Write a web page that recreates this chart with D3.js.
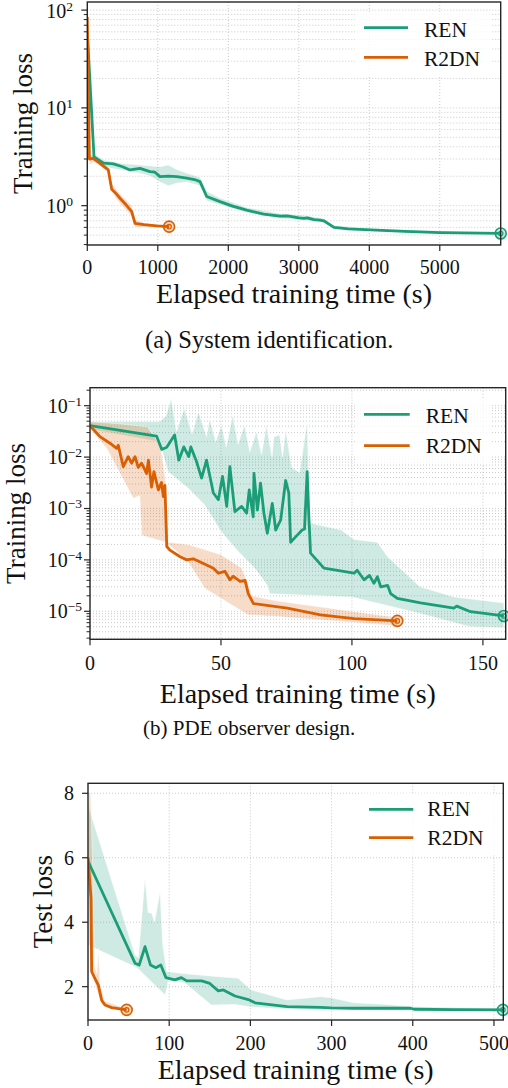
<!DOCTYPE html>
<html lang="en">
<head>
<meta charset="UTF-8">
<title>Training loss vs elapsed training time</title>
<script src="https://d3js.org/d3.v7.min.js"></script>
<style>
  body { margin: 0; background: #fff; }
</style>
</head>
<body>
<script>
// ---------- (a) System identification ----------
var sysRenT  = [0, 95, 230, 370, 500, 606, 748, 889, 960, 1031, 1150, 1268, 1410, 1520, 1599, 1694, 1882, 2061, 2261, 2500, 2733, 2837, 3000, 3074, 3120, 3216, 3300, 3357, 3499, 3700, 4020, 4500, 5000, 5864];
var sysRen   = [60, 3.15, 2.72, 2.67, 2.5, 2.32, 2.41, 2.23, 2.2, 1.98, 2.0, 1.98, 1.91, 1.85, 1.76, 1.24, 1.10, 0.99, 0.90, 0.82, 0.78, 0.785, 0.75, 0.743, 0.75, 0.72, 0.71, 0.70, 0.60, 0.58, 0.565, 0.545, 0.53, 0.52];
var sysRenBandT = [0, 95, 230, 500, 750, 900, 1031, 1150, 1268, 1410, 1599, 1694, 1882, 2261, 2733, 3074, 3357, 3499, 4020, 5864];
var sysRenHi = [66, 3.4, 2.95, 2.7, 2.6, 2.55, 2.5, 2.6, 2.35, 2.15, 1.95, 1.4, 1.2, 0.96, 0.83, 0.8, 0.74, 0.63, 0.58, 0.53];
var sysRenLo = [54, 2.9, 2.5, 2.3, 2.15, 2.0, 1.75, 1.6, 1.7, 1.75, 1.6, 1.12, 1.02, 0.85, 0.74, 0.71, 0.67, 0.58, 0.55, 0.51];

var sysR2dnT = [0, 30, 80, 133, 298, 346, 400, 464, 550, 630, 677, 800, 984, 1160];
var sysR2dn  = [85, 3.0, 3.05, 2.87, 2.32, 1.47, 1.35, 1.19, 1.02, 0.87, 0.66, 0.64, 0.62, 0.61];
var sysR2dnHi = [90, 3.3, 3.3, 3.1, 2.5, 1.7, 1.5, 1.32, 1.15, 1.0, 0.72, 0.67, 0.64, 0.62];
var sysR2dnLo = [80, 2.6, 2.8, 2.7, 2.2, 1.4, 1.2, 1.05, 0.9, 0.78, 0.6, 0.6, 0.6, 0.6];

// ---------- (b) PDE observer design ----------
var pdeRenT = [0, 25.4, 27.4, 29.3, 32.3, 33.9, 35.8, 37.7, 38.5, 40.7, 42.6, 44.5, 47.1, 49, 50.6, 52.2, 53.4, 55.3, 57.9, 59.8, 60.8, 62.3, 62.6, 63.9, 65.1, 66.4, 67.7, 69.6, 70.9, 72.8, 74.7, 75.9, 76.6, 78.5, 81.0, 81.9, 82.9, 83.6, 84.2, 89.3, 100.8, 102, 104.6, 106.7, 108.4, 109.7, 111, 113.6, 114.8, 117.3, 126.2, 138.9, 140, 145.3, 158];
var pdeRen  = [4.1e-2, 2.57e-2, 1.41e-2, 1.55e-2, 2.69e-2, 8.7e-3, 1.58e-2, 1.02e-2, 1.58e-2, 8.1e-3, 3.9e-3, 8.7e-3, 2.0e-3, 1.48e-3, 4.2e-3, 1.1e-3, 6.5e-3, 8.7e-4, 1.1e-3, 8.1e-4, 2.3e-3, 6.9e-4, 4.8e-3, 9.3e-4, 3.1e-3, 8.1e-4, 3.3e-4, 1.26e-3, 3.8e-4, 6.0e-4, 3.5e-3, 2.0e-3, 2.2e-4, 2.8e-4, 3.8e-4, 4.0e-4, 5.2e-3, 6.0e-4, 1.35e-4, 6.9e-5, 5.5e-5, 6.3e-5, 4.1e-5, 5.0e-5, 3.5e-5, 4.7e-5, 3.0e-5, 3.2e-5, 2.2e-5, 1.78e-5, 1.45e-5, 1.15e-5, 1.26e-5, 9.8e-6, 8.1e-6];
var pdeRenHiT = [0, 26.6, 29, 31, 33, 36, 39, 41.4, 44.5, 45.7, 48, 50.2, 52, 54.5, 56.5, 59, 61, 63.5, 65.5, 67.3, 69.5, 70.2, 72.4, 73.5, 74.7, 77, 80, 82.9, 84, 96, 100.8, 109.7, 113.6, 126, 139, 158];
var pdeRenHi  = [4.9e-2, 4.9e-2, 6.3e-2, 0.138, 3.16e-2, 8.9e-2, 2.8e-2, 7.6e-2, 2.5e-2, 5.6e-2, 2.0e-2, 4.2e-2, 1.58e-2, 6.6e-2, 1.78e-2, 4.2e-2, 1.26e-2, 3.16e-2, 1.12e-2, 4.2e-2, 1.0e-2, 2.5e-2, 2.7e-2, 1.0e-2, 3.4e-2, 6.3e-3, 5.0e-3, 4.9e-2, 5.2e-4, 3.8e-4, 2.5e-4, 2.2e-4, 1.15e-4, 3.0e-5, 1.9e-5, 1.45e-5];
var pdeRenLoT = [0, 26.6, 29.8, 37.4, 43.8, 50.2, 56.6, 62.9, 67.7, 68.6, 100, 126, 145, 158];
var pdeRenLo  = [3.5e-2, 2.0e-2, 5.2e-3, 2.5e-3, 1.17e-3, 3.5e-4, 1.45e-4, 6.9e-5, 3.2e-5, 2.2e-5, 1.9e-5, 9.1e-6, 5.0e-6, 4.8e-6];

var pdeR2dnT = [0, 3.8, 7.6, 10.2, 10.8, 12.7, 14.6, 15.9, 17.2, 18.4, 19.7, 21.6, 22.3, 23.5, 24.4, 26.1, 27.3, 28.0, 28.6, 29.3, 30.5, 34.4, 36.9, 39.4, 43.3, 47.1, 49, 51.5, 53.4, 54.7, 57.3, 59.2, 60.4, 62.4, 75.3, 88, 100.8, 117.3];
var pdeR2dn  = [4.1e-2, 2.5e-2, 1.86e-2, 1.48e-2, 1.7e-2, 6.5e-3, 1.02e-2, 7.6e-3, 1.02e-2, 6.3e-3, 7.6e-3, 4.8e-3, 8.7e-3, 2.6e-3, 5.2e-3, 2.3e-3, 3.2e-3, 1.7e-3, 2.8e-3, 1.82e-4, 1.55e-4, 1.15e-4, 1.0e-4, 1.05e-4, 8.5e-5, 6.9e-5, 5.5e-5, 6.0e-5, 4.1e-5, 4.8e-5, 3.8e-5, 4.0e-5, 2.2e-5, 1.41e-5, 1.15e-5, 8.5e-6, 7.2e-6, 6.5e-6];
var pdeR2dnHiT = [0, 10, 22, 27, 29, 30, 37.4, 50, 58, 60.5, 61.8, 71.5, 117.3];
var pdeR2dnHi  = [4.9e-2, 4.5e-2, 3.9e-2, 1.58e-2, 2.9e-3, 2.2e-4, 2.0e-4, 1.26e-4, 6.9e-5, 3.2e-5, 2.0e-5, 1.58e-5, 7.6e-6];
var pdeR2dnLoT = [0, 6.4, 16.5, 19, 19.7, 29.1, 37.4, 43.8, 60.4, 71.5, 117.3];
var pdeR2dnLo  = [3.5e-2, 1.48e-2, 1.58e-3, 1.78e-3, 3.0e-4, 2.2e-4, 9.3e-5, 2.8e-5, 8.5e-6, 7.9e-6, 5.2e-6];

// ---------- (c) test loss ----------
var testRenT = [0, 57.9, 63, 70.2, 77, 83.5, 89.7, 96, 107, 115, 121.6, 140, 150, 160.5, 166.7, 181, 197.5, 205.7, 245.4, 286.5, 298.9, 327.6, 368.6, 397.4, 401.5, 450, 511];
var testRen  = [5.9, 2.73, 2.67, 3.24, 2.67, 2.59, 2.67, 2.28, 2.21, 2.28, 2.18, 2.18, 2.10, 1.87, 1.9, 1.71, 1.6, 1.5, 1.38, 1.36, 1.34, 1.33, 1.33, 1.33, 1.30, 1.29, 1.28];
var testRenHiT = [0, 57.9, 62, 70.2, 74, 78.4, 82, 88.7, 92, 96.9, 119, 160.5, 185, 201, 245, 286.5, 299, 327, 368, 401, 511];
var testRenHi  = [7.64, 2.98, 2.9, 5.37, 4.3, 4.28, 4.0, 4.95, 3.3, 2.47, 2.4, 2.31, 2.26, 1.9, 1.59, 1.69, 1.66, 1.5, 1.45, 1.38, 1.33];
var testRenLoT = [0, 57.9, 62, 95, 99, 119, 152, 181, 201, 245, 368, 511];
var testRenLo  = [3.29, 2.62, 2.55, 1.74, 2.2, 2.12, 1.43, 1.45, 1.37, 1.31, 1.27, 1.26];

var testR2dnT = [0, 3.7, 4.5, 8.2, 12.7, 16.8, 20.9, 29.1, 47.6];
var testR2dn  = [6.0, 4.74, 2.47, 2.27, 2.05, 1.58, 1.43, 1.35, 1.28];
var testR2dnHiT = [0, 1.2, 3.2, 5.3, 8, 11, 12.7, 14.8, 20.9, 47.6];
var testR2dnHi  = [6.2, 8.05, 8.0, 6.2, 2.6, 2.4, 3.19, 2.05, 1.55, 1.32];
var testR2dnLoT = [0, 3.7, 5.3, 10.7, 17, 47.6];
var testR2dnLo  = [5.8, 3.0, 2.37, 1.9, 1.45, 1.25];

var seriesNames = ['REN', 'R2DN'];
var xTicksSys  = [0, 1000, 2000, 3000, 4000, 5000];
var xTicksPde  = [0, 50, 100, 150];
var xTicksTest = [0, 100, 200, 300, 400, 500];
var yMajorSys  = [1, 10, 100];
var yMajorPde  = [1e-5, 1e-4, 1e-3, 1e-2, 1e-1];
var yTicksTest = [2, 4, 6, 8];

var width = 508, height = 1088;
var green = '#1b9e77', orange = '#d95f02';
var serif = '"Liberation Serif", "DejaVu Serif", serif';
var svg = d3.select('body').append('svg').attr('width', width).attr('height', height)
  .attr('font-family', serif).style('font-family', serif);

function zip(ts, vs) { return ts.map(function (t, i) { return [t, vs[i]]; }); }

var panels = [
  { box: {l: 87.3, t: 2, r: 500.7, b: 245}, xDom: [0, 5864], yDom: [0.396, 121], log: true,
    xTicks: xTicksSys, yTicks: yMajorSys, yLabel: 'Training loss', yLabelX: 32, yTickX: 73,
    xTickY: 274, xLabelY: 303, caption: '(a) System identification.', capX: 145, capY: 348, capSize: 24.5,
    leg: {x1: 364, x2: 408, y: [27.7, 57.3], tx: 424, ty: [36.7, 66]},
    series: [
      {c: green, line: zip(sysRenT, sysRen), hi: zip(sysRenBandT, sysRenHi), lo: zip(sysRenBandT, sysRenLo)},
      {c: orange, line: zip(sysR2dnT, sysR2dn), hi: zip(sysR2dnT, sysR2dnHi), lo: zip(sysR2dnT, sysR2dnLo)}
    ] },
  { box: {l: 90, t: 387.7, r: 505.7, b: 639.3}, xDom: [0, 158.7], yDom: [2.85e-6, 0.224], log: true,
    xTicks: xTicksPde, yTicks: yMajorPde, yLabel: 'Training loss', yLabelX: 25, yTickX: 82,
    xTickY: 670, xLabelY: 703, caption: '(b) PDE observer design.', capX: 143, capY: 735, capSize: 21,
    leg: {x1: 364, x2: 409.7, y: [414.3, 445.7], tx: 425.7, ty: [423.3, 453.3]},
    series: [
      {c: green, line: zip(pdeRenT, pdeRen), hi: zip(pdeRenHiT, pdeRenHi), lo: zip(pdeRenLoT, pdeRenLo)},
      {c: orange, line: zip(pdeR2dnT, pdeR2dn), hi: zip(pdeR2dnHiT, pdeR2dnHi), lo: zip(pdeR2dnLoT, pdeR2dnLo)}
    ] },
  { box: {l: 88, t: 783.3, r: 503.3, b: 1020}, xDom: [0, 511.5], yDom: [0.966, 8.31], log: false,
    xTicks: xTicksTest, yTicks: yTicksTest, yLabel: 'Test loss', yLabelX: 52, yTickX: 74,
    xTickY: 1050, xLabelY: 1079, caption: null,
    leg: {x1: 369, x2: 413.3, y: [809.3, 837.7], tx: 427.3, ty: [816, 845]},
    series: [
      {c: green, line: zip(testRenT, testRen), hi: zip(testRenHiT, testRenHi), lo: zip(testRenLoT, testRenLo)},
      {c: orange, line: zip(testR2dnT, testR2dn), hi: zip(testR2dnHiT, testR2dnHi), lo: zip(testR2dnLoT, testR2dnLo)}
    ] }
];

function label(sel) { return sel.attr('font-family', serif).attr('fill', '#111'); }

panels.forEach(function (p, idx) {
  var b = p.box;
  var x = d3.scaleLinear().domain(p.xDom).range([b.l, b.r]);
  var y = (p.log ? d3.scaleLog() : d3.scaleLinear()).domain(p.yDom).range([b.b, b.t]);
  var g = svg.append('g');

  // minor log ticks (2..9 per decade)
  var minor = [];
  if (p.log) {
    var d0 = Math.floor(Math.log10(p.yDom[0])), d1 = Math.ceil(Math.log10(p.yDom[1]));
    for (var d = d0; d <= d1; d++) {
      for (var k = 2; k <= 9; k++) {
        var v = k * Math.pow(10, d);
        if (v >= p.yDom[0] && v <= p.yDom[1]) minor.push(v);
      }
    }
  }

  // grid
  var grid = g.append('g').attr('stroke', '#c4c4c4').attr('stroke-width', 0.9).attr('stroke-dasharray', '1,2');
  p.xTicks.forEach(function (t) {
    grid.append('line').attr('x1', x(t)).attr('x2', x(t)).attr('y1', b.t).attr('y2', b.b);
  });
  p.yTicks.concat(minor).forEach(function (v) {
    grid.append('line').attr('x1', b.l).attr('x2', b.r).attr('y1', y(v)).attr('y2', y(v));
  });

  var clipId = 'clip' + idx;
  svg.append('clipPath').attr('id', clipId).append('rect')
    .attr('x', b.l).attr('y', b.t).attr('width', b.r - b.l).attr('height', b.b - b.t);
  var plot = g.append('g').attr('clip-path', 'url(#' + clipId + ')');

  var line = d3.line().x(function (d) { return x(d[0]); }).y(function (d) { return y(d[1]); });

  // shaded bands first
  p.series.forEach(function (s) {
    var poly = s.hi.concat(s.lo.slice().reverse());
    plot.append('path').attr('d', line(poly) + 'Z')
      .attr('fill', s.c).attr('fill-opacity', 0.21)
      .attr('stroke', '#ffffff').attr('stroke-opacity', 0.6).attr('stroke-width', 0.8);
  });
  // mean curves
  p.series.forEach(function (s) {
    plot.append('path').attr('d', line(s.line))
      .attr('fill', 'none').attr('stroke', s.c).attr('stroke-width', 2.8)
      .attr('stroke-linejoin', 'round');
  });
  // end markers
  p.series.forEach(function (s) {
    var last = s.line[s.line.length - 1];
    g.append('circle').attr('cx', x(last[0])).attr('cy', y(last[1])).attr('r', 5.5)
      .attr('fill', s.c).attr('fill-opacity', 0.25).attr('stroke', s.c).attr('stroke-width', 1.6);
    g.append('circle').attr('cx', x(last[0])).attr('cy', y(last[1])).attr('r', 2.2)
      .attr('fill', 'none').attr('stroke', s.c).attr('stroke-width', 1.2);
  });

  // frame
  g.append('rect').attr('x', b.l).attr('y', b.t).attr('width', b.r - b.l).attr('height', b.b - b.t)
    .attr('fill', 'none').attr('stroke', '#262626').attr('stroke-width', 1.4);

  // x ticks
  p.xTicks.forEach(function (t) {
    g.append('line').attr('x1', x(t)).attr('x2', x(t)).attr('y1', b.b).attr('y2', b.b + 6)
      .attr('stroke', '#262626').attr('stroke-width', 1.2);
    label(g.append('text')).attr('x', x(t)).attr('y', p.xTickY).attr('text-anchor', 'middle')
      .attr('font-size', 20).text(t);
  });
  // y ticks
  p.yTicks.forEach(function (v) {
    g.append('line').attr('x1', b.l - 6).attr('x2', b.l).attr('y1', y(v)).attr('y2', y(v))
      .attr('stroke', '#262626').attr('stroke-width', 1.2);
    var tx = label(g.append('text')).attr('x', p.yTickX).attr('y', Math.max(y(v) + 7, 18)).attr('text-anchor', 'end')
      .attr('font-size', 20);
    if (p.log) {
      var e = Math.round(Math.log10(v));
      tx.append('tspan').text('10');
      tx.append('tspan').attr('dy', -7).attr('font-size', 13.5).text(e < 0 ? '\u2212' + (-e) : String(e));
    } else {
      tx.text(v);
    }
  });
  minor.forEach(function (v) {
    g.append('line').attr('x1', b.l - 3.5).attr('x2', b.l).attr('y1', y(v)).attr('y2', y(v))
      .attr('stroke', '#262626').attr('stroke-width', 1);
  });

  // axis labels
  label(g.append('text')).attr('x', (b.l + b.r) / 2).attr('y', p.xLabelY).attr('text-anchor', 'middle')
    .attr('font-size', 28).text('Elapsed training time (s)');
  label(g.append('text')).attr('transform', 'translate(' + p.yLabelX + ',' + ((b.t + b.b) / 2) + ') rotate(-90)')
    .attr('text-anchor', 'middle').attr('font-size', 27).text(p.yLabel);

  // legend
  var L = p.leg;
  g.append('rect').attr('x', L.x1 - 9).attr('y', L.y[0] - 16).attr('width', 136).attr('height', L.y[1] - L.y[0] + 34)
    .attr('rx', 3).attr('fill', '#fff').attr('fill-opacity', 0.8);
  p.series.forEach(function (s, i) {
    g.append('line').attr('x1', L.x1).attr('x2', L.x2).attr('y1', L.y[i]).attr('y2', L.y[i])
      .attr('stroke', s.c).attr('stroke-width', 2.8);
    label(g.append('text')).attr('x', L.tx).attr('y', L.ty[i]).attr('font-size', 21.5).text(seriesNames[i]);
  });

  if (p.caption) {
    label(g.append('text')).attr('x', p.capX).attr('y', p.capY).attr('font-size', p.capSize).text(p.caption);
  }
});
</script>
</body>
</html>
